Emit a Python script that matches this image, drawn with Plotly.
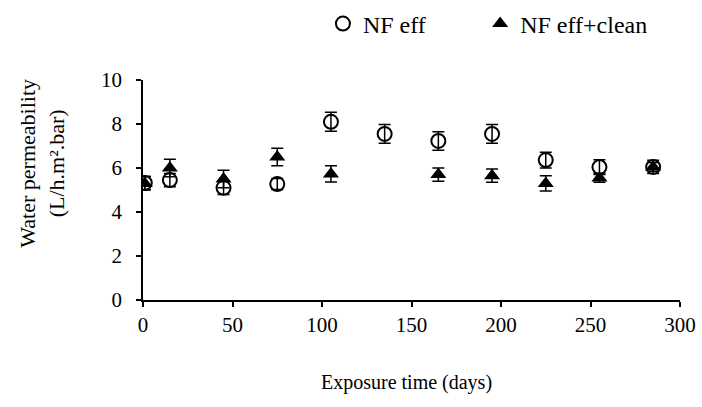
import plotly.graph_objects as go

days = [1, 15, 45, 75, 105, 135, 165, 195, 225, 255, 285]
nf_eff = [5.32, 5.45, 5.1, 5.27, 8.1, 7.55, 7.23, 7.55, 6.36, 6.04, 6.05]
nf_eff_err = [0.3, 0.3, 0.3, 0.25, 0.43, 0.43, 0.42, 0.43, 0.36, 0.34, 0.3]

days_clean = [1, 15, 45, 75, 105, 165, 195, 225, 255, 285]
nf_clean = [5.3, 6.0, 5.5, 6.5, 5.73, 5.7, 5.65, 5.3, 5.55, 6.05]
nf_clean_err = [0.3, 0.4, 0.4, 0.4, 0.37, 0.3, 0.3, 0.35, 0.2, 0.2]

FONT = "Liberation Serif"
FS_TICK = 21
FS = 22
FS_X = 20
FS_LEG = 24

fig = go.Figure()
fig.add_trace(go.Scatter(
    x=days, y=nf_eff, mode="markers", name="NF eff", legend="legend",
    marker=dict(symbol="circle-open", size=14, color="black", line=dict(width=2)),
    error_y=dict(type="data", array=nf_eff_err, color="black", thickness=1.5, width=6),
))
fig.add_trace(go.Scatter(
    x=days_clean, y=nf_clean, mode="markers", name="NF eff+clean", legend="legend2",
    marker=dict(symbol="triangle-up", size=14, color="black"),
    error_y=dict(type="data", array=nf_clean_err, color="black", thickness=1.5, width=6),
))

leg_common = dict(orientation="h", xref="container", yref="container",
                  y=0.941, xanchor="left", yanchor="middle",
                  font=dict(size=FS_LEG, family=FONT, color="black"), itemwidth=30,
                  bgcolor="rgba(0,0,0,0)")

fig.update_layout(
    width=702, height=407,
    margin=dict(l=143, r=22, t=80, b=107, autoexpand=False),
    paper_bgcolor="white", plot_bgcolor="white",
    font=dict(family=FONT, size=FS, color="black"),
    showlegend=True,
    legend=dict(x=0.46, **leg_common),
    legend2=dict(x=0.684, **leg_common),
    xaxis=dict(range=[0, 300], tickvals=[0, 50, 100, 150, 200, 250, 300],
               showline=True, linecolor="black", linewidth=1.5,
               ticks="outside", ticklen=5, tickcolor="black", tickwidth=1.5,
               showgrid=False, zeroline=False,
               tickfont=dict(size=FS_TICK, family=FONT, color="black")),
    yaxis=dict(range=[0, 10], tickvals=[0, 2, 4, 6, 8, 10],
               showline=True, linecolor="black", linewidth=1.5,
               ticks="outside", ticklen=5, tickcolor="black", tickwidth=1.5,
               showgrid=False, zeroline=False, ticklabelstandoff=10,
               tickfont=dict(size=FS_TICK, family=FONT, color="black")),
    annotations=[
        dict(text="Exposure time (days)", xref="paper", yref="paper",
             x=0.49, y=-0.375, xanchor="center", yanchor="middle", showarrow=False,
             font=dict(size=FS_X, family=FONT, color="black")),
        dict(text="Water permeability<br>(L/h.m².bar)", xref="paper", yref="paper",
             x=-0.188, y=0.62, xanchor="center", yanchor="middle", showarrow=False,
             textangle=-90, font=dict(size=FS, family=FONT, color="black")),
    ],
)

fig.write_html("out.html")
